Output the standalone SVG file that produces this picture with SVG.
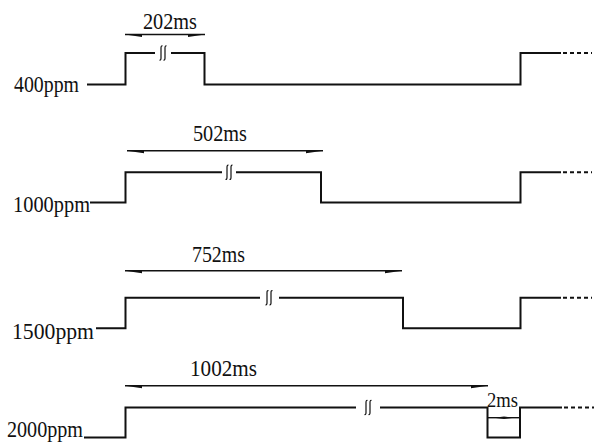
<svg xmlns="http://www.w3.org/2000/svg" xmlns:xlink="http://www.w3.org/1999/xlink" width="594" height="443" viewBox="0 0 594 443">
<style>
.sig{fill:none;stroke:#111;stroke-width:2}
.dash{fill:none;stroke:#111;stroke-width:2;stroke-dasharray:4 3}
.dim{fill:none;stroke:#111;stroke-width:1.4}
.ah{fill:#111;stroke:none}
.brk{fill:none;stroke:#111;stroke-width:1.2}
.t{font-family:"Liberation Serif","Times New Roman",serif;font-size:24px;fill:#111}
.p{font-size:23px}
</style>
<defs>
<g id="brk">
<path class="brk" d="M-0.5,-7 Q-2,-7.5 -2,-5 L-2,5 Q-2,7.5 -3.5,7"/>
<path class="brk" d="M3.5,-7 Q2,-7.5 2,-5 L2,5 Q2,7.5 0.5,7"/>
</g>
</defs>
<rect width="594" height="443" fill="#fff"/>
<g id="row-400ppm">
<text class="t p" x="14" y="92" textLength="65" lengthAdjust="spacingAndGlyphs">400ppm</text>
<path class="sig" d="M87,84.5 H125.5 V53 H155 M171,53 H204.5 V84.5 H520.5 V53 H561"/>
<path class="dash" d="M563,53 H592"/>
<use xlink:href="#brk" x="163" y="53"/>
<text class="t" x="143" y="29" textLength="54" lengthAdjust="spacingAndGlyphs">202ms</text>
</g>
<g id="row-1000ppm">
<text class="t p" x="13" y="212" textLength="77" lengthAdjust="spacingAndGlyphs">1000ppm</text>
<path class="sig" d="M90,202.5 H125.5 V172.3 H222 M236,172.3 H321 V202.5 H520.5 V172.3 H561"/>
<path class="dash" d="M563,172.3 H592"/>
<use xlink:href="#brk" x="229" y="172.3"/>
<text class="t" x="193" y="141" textLength="54" lengthAdjust="spacingAndGlyphs">502ms</text>
</g>
<g id="row-1500ppm">
<text class="t p" x="12" y="339" textLength="82" lengthAdjust="spacingAndGlyphs">1500ppm</text>
<path class="sig" d="M96,328.3 H125.5 V297.7 H260 M279,297.7 H403 V328.3 H520.5 V297.7 H561"/>
<path class="dash" d="M563,297.7 H592"/>
<use xlink:href="#brk" x="269" y="297.7"/>
<text class="t" x="192" y="262" textLength="53" lengthAdjust="spacingAndGlyphs">752ms</text>
</g>
<g id="row-2000ppm">
<text class="t p" x="7" y="437" textLength="76" lengthAdjust="spacingAndGlyphs">2000ppm</text>
<path class="sig" d="M84,437.5 H125.5 V407.5 H356 M380,407.5 H487.5 V437.5 H520 V407.5 H562"/>
<path class="dash" d="M564,407.5 H594"/>
<use xlink:href="#brk" x="368" y="407.5"/>
<text class="t" x="190" y="376" textLength="67" lengthAdjust="spacingAndGlyphs">1002ms</text>
<text class="t" x="487" y="407" textLength="31" lengthAdjust="spacingAndGlyphs" style="font-size:20px">2ms</text>
</g>
<g id="connectors">
<path class="dim" d="M125,34.5 H205"/>
<path class="ah" d="M125,34.5 L142,34.5 L142,37 Z M205,34.5 L188,34.5 L188,37 Z"/>
<path class="dim" d="M127,150.7 H323"/>
<path class="ah" d="M127,150.7 L144,150.7 L144,153.2 Z M323,150.7 L306,150.7 L306,153.2 Z"/>
<path class="dim" d="M125,270.7 H402"/>
<path class="ah" d="M125,270.7 L142,270.7 L142,273.2 Z M402,270.7 L385,270.7 L385,273.2 Z"/>
<path class="dim" d="M125,385.7 H488"/>
<path class="ah" d="M125,385.7 L142,385.7 L142,388.2 Z M488,385.7 L471,385.7 L471,388.2 Z"/>
<path class="dim" d="M488,417.7 H520"/>
<path class="ah" d="M494,417.7 L504,416.5 L504,419 Z M514,417.7 L504,416.5 L504,419 Z"/>
</g>
</svg>
